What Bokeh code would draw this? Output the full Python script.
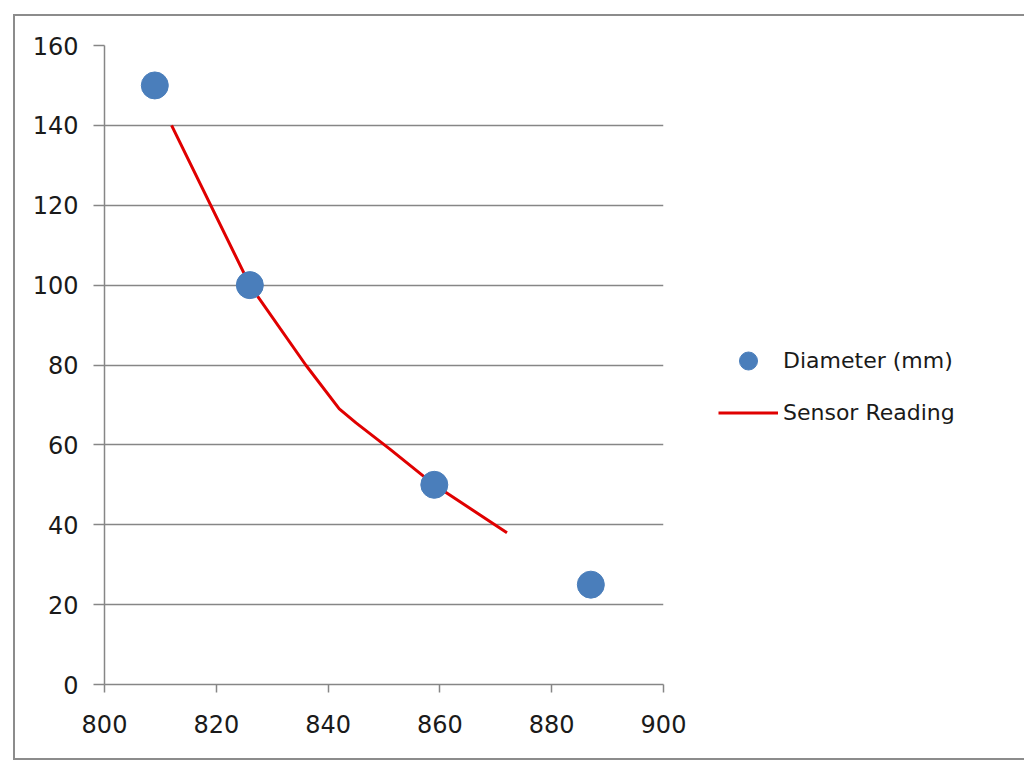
from bokeh.plotting import figure
from bokeh.models import Range1d, FixedTicker, Legend, LegendItem
from bokeh.embed import file_html
from bokeh.resources import INLINE

# Data
diameter_x = [809, 826, 859, 887]
diameter_y = [150, 100, 50, 25]
sensor_x = [812, 826, 836, 842, 845, 851, 859, 872]
sensor_y = [140, 100, 80, 69, 65.5, 59, 50, 38]
x_ticks = [800, 820, 840, 860, 880, 900]
y_ticks = [0, 20, 40, 60, 80, 100, 120, 140, 160]

p = figure(frame_width=559, frame_height=639, output_backend="svg",
           toolbar_location=None,
           x_range=Range1d(800, 900), y_range=Range1d(0, 160),
           min_border_left=89, min_border_top=29, min_border_bottom=74,
           min_border_right=0, background_fill_color="white",
           border_fill_color="white", outline_line_color=None,
           margin=(14, 0, 0, 13))
p.styles = {"border": "2px solid #8c8c8c", "box-sizing": "content-box"}

p.xgrid.grid_line_color = None
p.ygrid.grid_line_color = "#868686"
p.ygrid.grid_line_width = 1.5
p.ygrid.ticker = FixedTicker(ticks=y_ticks)

p.xaxis.ticker = FixedTicker(ticks=x_ticks)
p.yaxis.ticker = FixedTicker(ticks=y_ticks)
for ax in (p.xaxis[0], p.yaxis[0]):
    ax.axis_line_color = "#868686"
    ax.axis_line_width = 1.5
    ax.major_tick_line_color = "#868686"
    ax.major_tick_line_width = 1.5
    ax.minor_tick_line_color = None
    ax.major_tick_in = 0
    ax.major_label_text_font = "DejaVu Sans"
    ax.major_label_text_font_size = "24px"
    ax.major_label_text_color = "#1a1a1a"
p.xaxis.major_tick_out = 8
p.yaxis.major_tick_out = 11
p.xaxis.major_label_standoff = 22
p.yaxis.major_label_standoff = 15

line_r = p.line(sensor_x, sensor_y, line_color="#e00000", line_width=3)
dots_r = p.scatter(diameter_x, diameter_y, size=27, fill_color="#4a7ebb",
                   line_color="#4a7ebb")

legend = Legend(items=[LegendItem(label="Diameter (mm)", renderers=[dots_r]),
                       LegendItem(label="Sensor Reading", renderers=[line_r])],
                location="left", orientation="vertical",
                title=" ", title_text_font_size="20px", title_standoff=20,
                glyph_width=60, glyph_height=45, label_height=45,
                spacing=7, padding=0, margin=55, label_standoff=5,
                border_line_color=None, background_fill_alpha=0,
                label_text_font="DejaVu Sans", label_text_font_size="22px",
                label_text_color="#1a1a1a")
p.add_layout(legend, "right")

open("out.html", "w").write(file_html(p, INLINE))
